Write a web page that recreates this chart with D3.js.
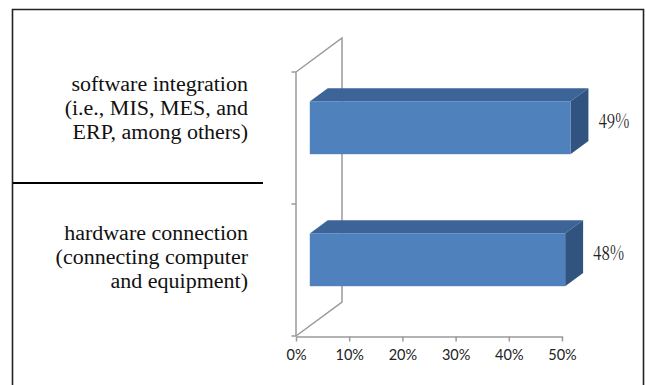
<!DOCTYPE html>
<html>
<head>
<meta charset="utf-8">
<script src="https://cdn.jsdelivr.net/npm/d3@7"></script>
<style>
  html, body { margin: 0; padding: 0; background: #fff; }
  svg { display: block; }
</style>
</head>
<body>
<svg id="chart" width="646" height="385"></svg>
<script>
// Survey shares, top row first
const categories = ["software", "hardware"];
const categoryLines = [
  ["software integration", "(i.e., MIS, MES, and", "ERP, among others)"],
  ["hardware connection", "(connecting computer", "and equipment)"]
];
const values = [0.49, 0.48];
const valueLabels = ["49%", "48%"];
const xTicks = [0, 0.1, 0.2, 0.3, 0.4, 0.5];

const svg = d3.select("#chart");

// Plot frame (front plane) and 3-D depth vector
const x0 = 296, plotW = 266;
const yTop = 72, yBot = 336;
const depth = { dx: 46, dy: -34 };
const barDepth = [0.3, 0.69];

const x = d3.scaleLinear().domain([0, 0.5]).range([x0, x0 + plotW]);
const y = d3.scaleBand().domain(categories).range([yTop, yBot])
  .paddingInner(0.6).paddingOuter(0.3);

const proj = (px, py, d) => [px + d * depth.dx, py + d * depth.dy];

// Outer border
svg.append("path")
  .attr("d", "M12.5,385V9.5H643.5V385")
  .attr("fill", "none").attr("stroke", "#222").attr("stroke-width", 1.6);

// Row separator in the label column
svg.append("line")
  .attr("x1", 13).attr("x2", 263).attr("y1", 183).attr("y2", 183)
  .attr("stroke", "#000").attr("stroke-width", 2);

// Back wall outline
const gridColor = "#9a9a9a";
const wall = svg.append("g").attr("fill", "none").attr("stroke", gridColor).attr("stroke-width", 1.5);
const tl = proj(x0, yTop, 1), bl = proj(x0, yBot, 1);
wall.append("path").attr("d", `M${x0},${yTop}L${tl[0]},${tl[1]}L${bl[0]},${bl[1]}L${x0},${yBot}`);

// Vertical category axis with boundary ticks
const bounds = d3.range(categories.length + 1).map(i => yTop + i * (yBot - yTop) / categories.length);
wall.append("line").attr("x1", x0).attr("x2", x0).attr("y1", yTop).attr("y2", yBot);
wall.selectAll("line.tick").data(bounds).join("line").attr("class", "tick")
  .attr("x1", x0 - 4.5).attr("x2", x0).attr("y1", d => d).attr("y2", d => d);

// Horizontal value axis
const xAxis = svg.append("g")
  .attr("transform", `translate(0,${yBot + 0.5})`)
  .call(d3.axisBottom(x).tickValues(xTicks).tickSize(5).tickSizeOuter(0).tickFormat(d3.format(".0%")));
xAxis.select(".domain").attr("stroke", gridColor).attr("stroke-width", 1.5);
xAxis.selectAll(".tick line").attr("stroke", gridColor).attr("stroke-width", 1.5);
xAxis.selectAll(".tick text")
  .style("font-family", "Lato, 'Liberation Sans', sans-serif")
  .style("font-size", "14.5px").attr("fill", "#222").attr("dy", "1.05em");

// 3-D bars
const colors = { front: "#4f81bd", top: "#3d6499", side: "#31537f" };
const bars = svg.append("g");
categories.forEach((c, i) => {
  const v = values[i];
  const yb = y(c), bw = y.bandwidth();
  const [d1, d2] = barDepth;
  const f0 = proj(x(0), yb, d1), f1 = proj(x(v), yb + bw, d1);
  const b0 = proj(x(0), yb, d2), b1 = proj(x(v), yb, d2), b2 = proj(x(v), yb + bw, d2);
  const g = bars.append("g");
  // top face
  g.append("path").attr("fill", colors.top)
    .attr("d", `M${f0[0]},${f0[1]}L${b0[0]},${b0[1]}L${b1[0]},${b1[1]}L${f1[0]},${f0[1]}Z`);
  // side face
  g.append("path").attr("fill", colors.side)
    .attr("d", `M${f1[0]},${f0[1]}L${b1[0]},${b1[1]}L${b2[0]},${b2[1]}L${f1[0]},${f1[1]}Z`);
  // front face
  g.append("rect").attr("fill", colors.front)
    .attr("x", f0[0]).attr("y", f0[1]).attr("width", f1[0] - f0[0]).attr("height", f1[1] - f0[1]);
  // value label
  const mid = proj(x(v), yb + bw / 2, (d1 + d2) / 2);
  svg.append("text")
    .style("font-family", "'Noto Serif CJK JP', 'Liberation Serif'")
    .style("font-size", "20px")
    .attr("x", b1[0] + 10).attr("y", mid[1]).attr("dy", "0.36em")
    .attr("fill", "#222").attr("textLength", 31).attr("lengthAdjust", "spacingAndGlyphs")
    .text(valueLabels[i]);
});

// Category labels in the left column: right-aligned by measuring each line,
// then stretched slightly with textLength
const labelRight = 248;
const labelTop = [91, 240];
const lineGap = 24;
const stretch = 1.1;
categoryLines.forEach((lines, i) => {
  lines.forEach((ln, j) => {
    const t = svg.append("text")
      .attr("y", labelTop[i] + j * lineGap)
      .style("font-family", '"Liberation Serif"')
      .attr("font-size", 20)
      .attr("fill", "#111")
      .text(ln);
    const w = t.node().getComputedTextLength() * stretch;
    t.attr("x", labelRight - w)
      .attr("textLength", w).attr("lengthAdjust", "spacingAndGlyphs");
  });
});
</script>
</body>
</html>
